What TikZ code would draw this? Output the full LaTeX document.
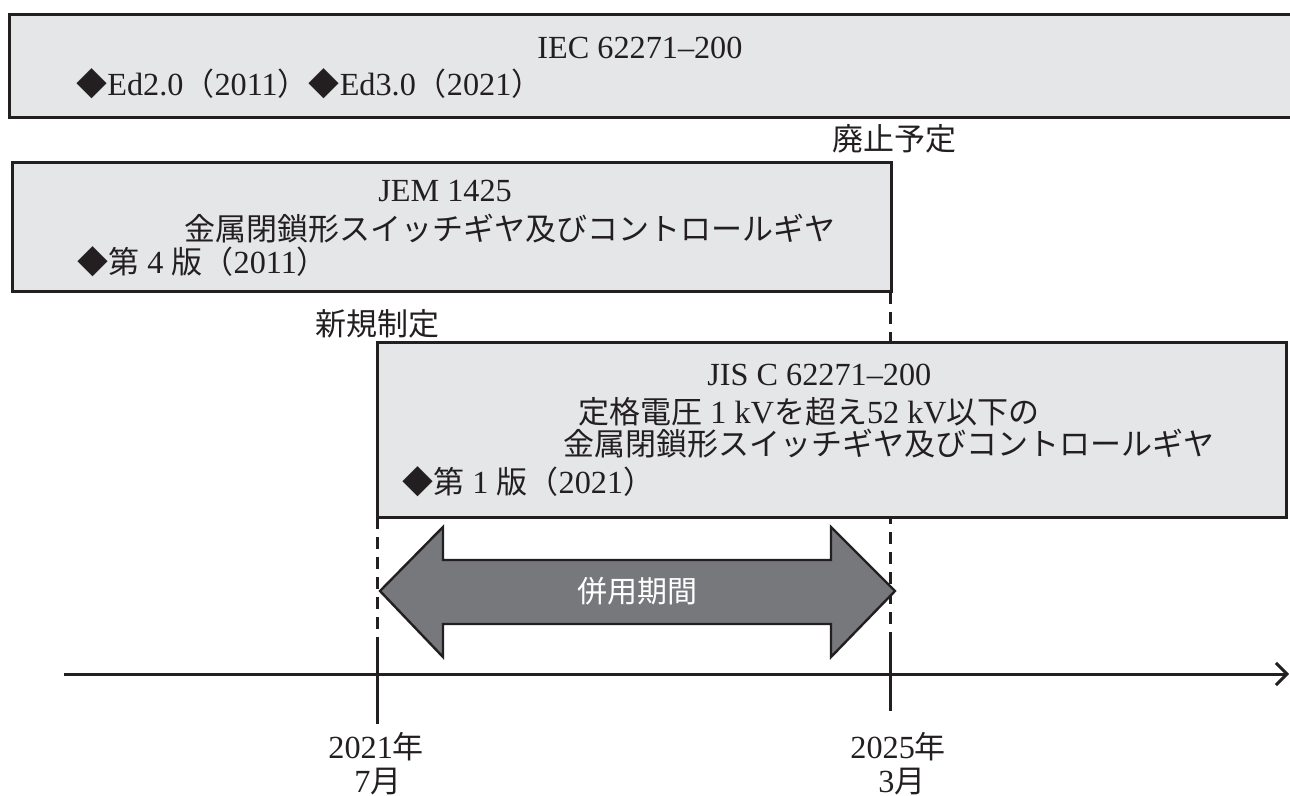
\documentclass[tikz,border=0pt]{standalone}
\usepackage{fontspec}
\setmainfont{Liberation Serif}[Scale=1.04]
\newfontfamily\cjk{Noto Sans CJK JP}
\usetikzlibrary{arrows.meta}
\newcommand\J[1]{{\cjk #1}}
\definecolor{boxfill}{HTML}{E5E6E8}
\definecolor{ink}{HTML}{231F20}
\definecolor{arrowfill}{HTML}{77787C}
\begin{document}
\begin{tikzpicture}[x=0.5pt,y=-0.5pt,
  txt/.style={inner sep=0pt, anchor=base west, font=\fontsize{15.5}{18}\selectfont, text=ink},
  boxline/.style={draw=ink, line width=1.5pt},
  boxbg/.style={fill=boxfill},
  dashline/.style={draw=ink, line width=1.5pt, dash pattern=on 6pt off 4pt},
  tickline/.style={draw=ink, line width=1.5pt},
  bigarrow/.style={fill=arrowfill, draw=ink, line width=1.2pt, line join=miter},
  axisline/.style={draw=ink, line width=1.5pt, -{Straight Barb[length=5.5pt, width=11pt, line width=1.5pt]}},
  arrowtext/.style={inner sep=0pt, text=white, font=\cjk\fontsize{15}{18}\selectfont}
]
\useasboundingbox (0,0) rectangle (1290,796);

% ---- IEC box (open to the right) ----
\fill[boxbg] (9,15) rectangle (1295,118);
\draw[boxline] (1295,15) -- (9,15) -- (9,118) -- (1295,118);
\node[txt] (iec) at (537,59) {IEC 62271–200};
\node[txt] (iecEd) at (76,96) {\J{◆}Ed2.0\J{（}2011\J{）◆}Ed3.0\J{（}2021\J{）}};

% ---- label haishi ----
\node[txt] (haishi) at (832,151) {\J{廃止予定}};

% ---- dashed guide lines ----
\coordinate (d1top) at (377,517);
\coordinate (d1bot) at (377,649);
\coordinate (d2top) at (890,292);
\coordinate (d2bot) at (890,640);
\draw[dashline] (d1top) -- (d1bot);
\draw[dashline] (d2top) -- (d2bot);

% ---- JEM box ----
\fill[boxbg] (12,163) rectangle (891,292);
\draw[boxline] (12,163) rectangle (891,292);
\node[txt] (jem) at (378,202) {JEM 1425};
\node[txt] (jemT) at (184,241) {\J{金属閉鎖形スイッチギヤ及びコントロールギヤ}};
\node[txt] (jemEd) at (77,274) {\J{◆第} 4 \J{版（}2011\J{）}};

% ---- label shinki ----
\node[txt] (shinki) at (315,336) {\J{新規制定}};

% ---- JIS box ----
\fill[boxbg] (377,343) rectangle (1286,517);
\draw[boxline] (377,343) rectangle (1286,517);
\node[txt] (jis) at (707,386) {JIS C 62271–200};
\node[txt] (jisT1) at (578,423) {\J{定格電圧} 1 kV\J{を超え}52 kV\J{以下の}};
\node[txt] (jisT2) at (563,456) {\J{金属閉鎖形スイッチギヤ及びコントロールギヤ}};
\node[txt] (jisEd) at (402,494) {\J{◆第} 1 \J{版（}2021\J{）}};

% ---- double arrow ----
\draw[bigarrow] (380,591) -- (443,527) -- (443,560) -- (831,560) -- (831,527)
  -- (895,591) -- (831,657) -- (831,624) -- (443,624) -- (443,657) -- cycle;
\node[arrowtext] (heiyo) at (637,591) {併用期間};

% ---- axis ----
\coordinate (axL) at (64,674);
\coordinate (axR) at (1289,674);
\draw[axisline] (axL) -- (axR);

% ---- ticks ----
\coordinate (t1a) at (377,649);
\coordinate (t1b) at (377,724);
\coordinate (t2a) at (890,640);
\coordinate (t2b) at (890,711);
\draw[tickline] (t1a) -- (t1b);
\draw[tickline] (t2a) -- (t2b);

% ---- dates ----
\node[txt] (y2021) at (328,758) {2021\J{年}};
\node[txt] (m7) at (354,792) {7\J{月}};
\node[txt] (y2025) at (850,758) {2025\J{年}};
\node[txt] (m3) at (878,792) {3\J{月}};
\end{tikzpicture}
\end{document}
